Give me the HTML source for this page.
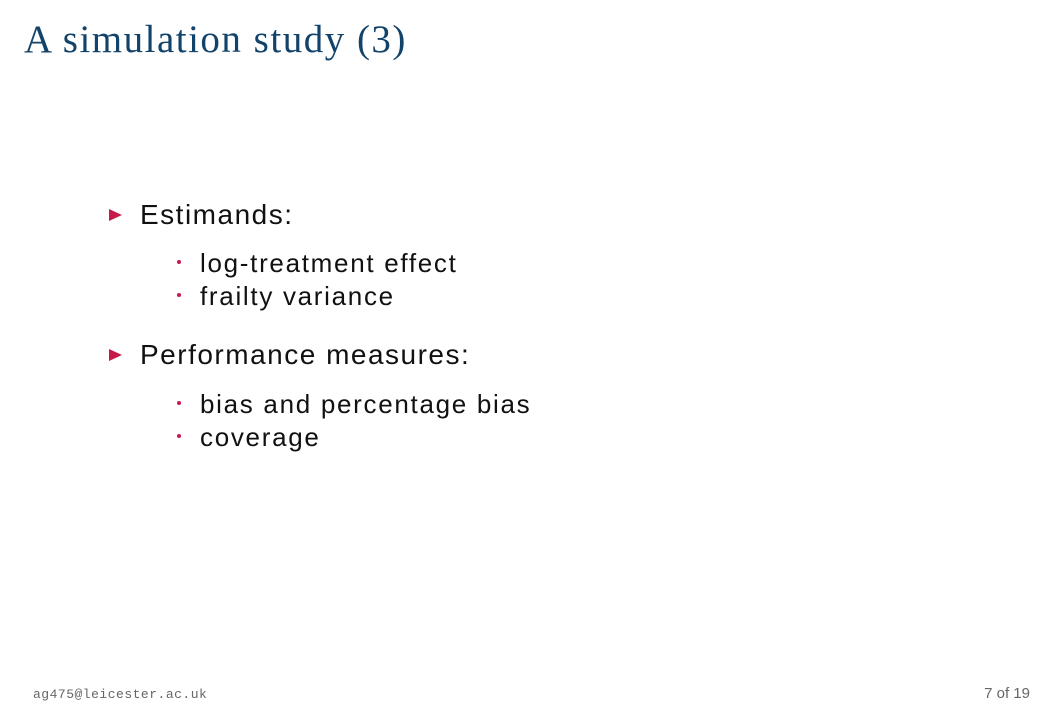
<!DOCTYPE html>
<html><head><meta charset="utf-8"><style>
body{margin:0;width:1063px;height:709px;background:#fff;position:relative;overflow:hidden;font-family:"Liberation Sans",sans-serif}
.a{position:absolute;white-space:nowrap;line-height:1}
.t{left:24px;top:20px;font-family:"Liberation Serif",serif;font-size:39px;color:#12436b;letter-spacing:1.5px}
.l1{left:140px;font-size:28px;color:#111;letter-spacing:1.5px}
.l2{left:200px;font-size:26px;color:#111;letter-spacing:1.7px}
.tri{position:absolute;width:0;height:0;border-left:13px solid #c8194b;border-top:6px solid transparent;border-bottom:6px solid transparent}
.dot{position:absolute;width:4px;height:4px;background:#c8194b;border-radius:50%}
.f{font-size:13px;color:#666}
</style></head><body>
<div class="a t">A simulation study (3)</div>
<div class="tri" style="left:109px;top:209px"></div>
<div class="a l1" style="top:201px">Estimands:</div>
<div class="dot" style="left:177px;top:260px"></div>
<div class="a l2" style="top:250px">log-treatment effect</div>
<div class="dot" style="left:177px;top:293px"></div>
<div class="a l2" style="top:283px">frailty variance</div>
<div class="tri" style="left:109px;top:349px"></div>
<div class="a l1" style="top:341px">Performance measures:</div>
<div class="dot" style="left:177px;top:401px"></div>
<div class="a l2" style="top:391px">bias and percentage bias</div>
<div class="dot" style="left:177px;top:434px"></div>
<div class="a l2" style="top:424px">coverage</div>
<div class="a f" style="left:33px;top:688px;font-family:'Liberation Mono',monospace;letter-spacing:0.5px">ag475@leicester.ac.uk</div>
<div class="a f" style="right:33px;top:686px;font-size:15px">7 of 19</div>
</body></html>
